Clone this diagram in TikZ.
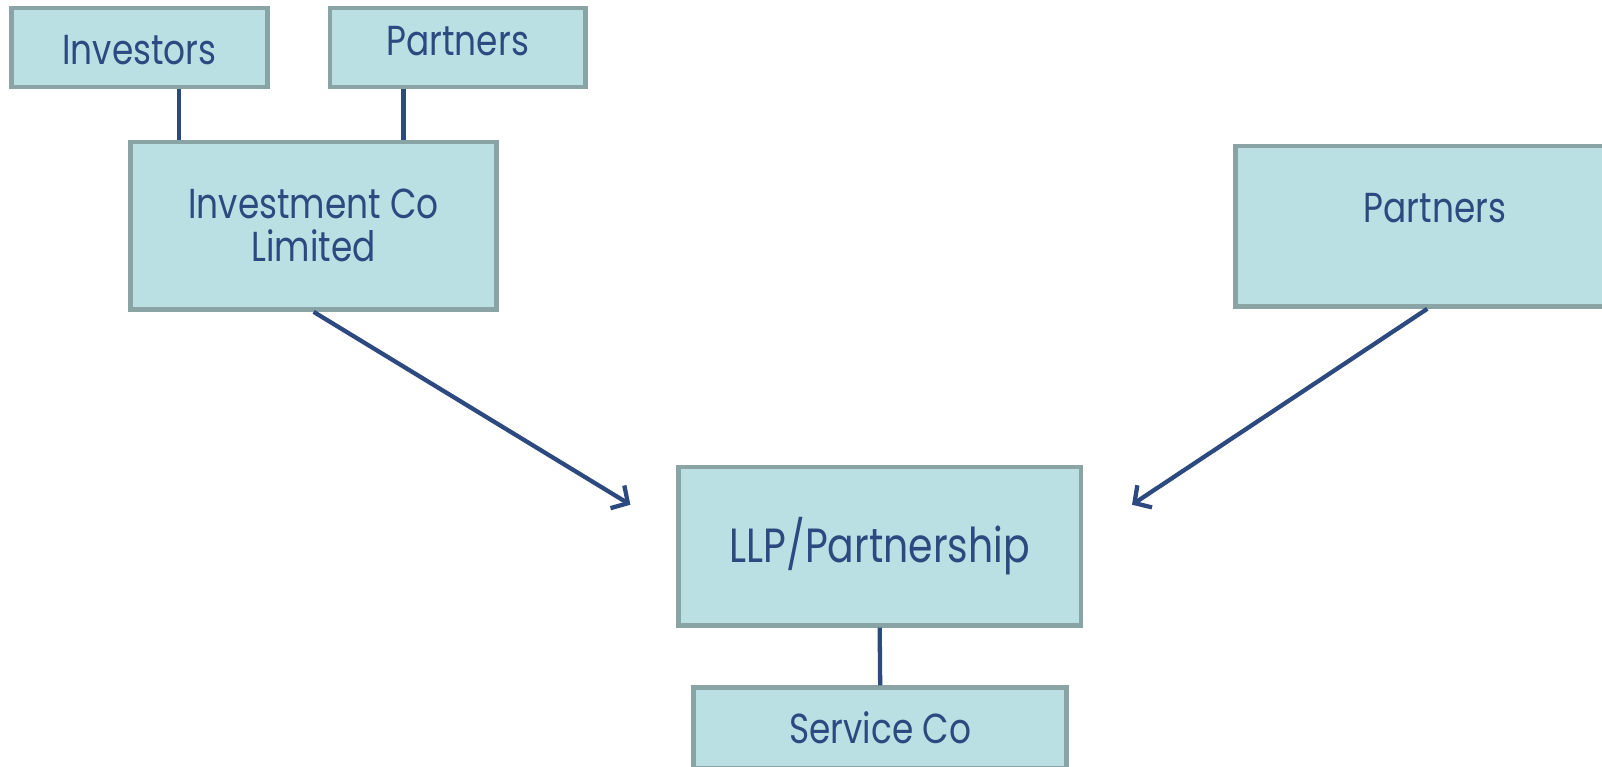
\documentclass[tikz,border=0pt]{standalone}
\usepackage{fontspec}
\setmainfont{Poppins}[FakeStretch=0.82]
\usetikzlibrary{arrows.meta}
\definecolor{boxfill}{HTML}{BBE0E3}
\definecolor{boxline}{HTML}{8AA4A6}
\definecolor{navy}{HTML}{2C4A80}
\begin{document}
\begin{tikzpicture}[x=1pt,y=1pt,
  entity/.style={draw=boxline, fill=boxfill, line width=4.5pt, text=navy, inner sep=0pt,
    font=\fontsize{41}{42}\selectfont, align=center},
  link/.style={draw=navy, line width=4.2pt},
  arr/.style={link, -{Straight Barb[length=12pt,width=26pt]}}]
\useasboundingbox (0,0) rectangle (1568,-750);
\clip (0,0) rectangle (1568,-750);
\node[entity, minimum width=251pt, text height=55pt, text depth=22pt] (inv) at (136.5,-46.5) {Investors};
\node[entity, minimum width=250pt, text height=46pt, text depth=31pt] (ptop) at (448,-46.5) {Partners};
\node[entity, minimum width=358pt, minimum height=164pt] (invco) at (307,-221) {Investment Co\\Limited};
\node[entity, minimum width=391pt, text height=75pt, text depth=82pt] (pright) at (1404.5,-221.5) {Partners};
\node[entity, font=\fontsize{47}{50}\selectfont, minimum width=394pt, minimum height=155pt] (llp) at (861,-534.5) {LLP/Partnership};
\node[entity, minimum width=365pt, minimum height=79pt] (svc) at (861.5,-712.5) {Service Co};
\coordinate (tipL) at (617,-494);
\coordinate (tipR) at (1108,-494);
\draw[link] ([xshift=38.5pt]inv.south) -- ([xshift=-132pt]invco.north);
\draw[link] ([xshift=-53pt]ptop.south) -- ([xshift=88pt]invco.north);
\draw[arr] (invco.south) -- (tipL);
\draw[arr] ([xshift=-7.5pt]pright.south) -- (tipR);
\draw[link] (llp.south) -- (svc.north);
\end{tikzpicture}
\end{document}
